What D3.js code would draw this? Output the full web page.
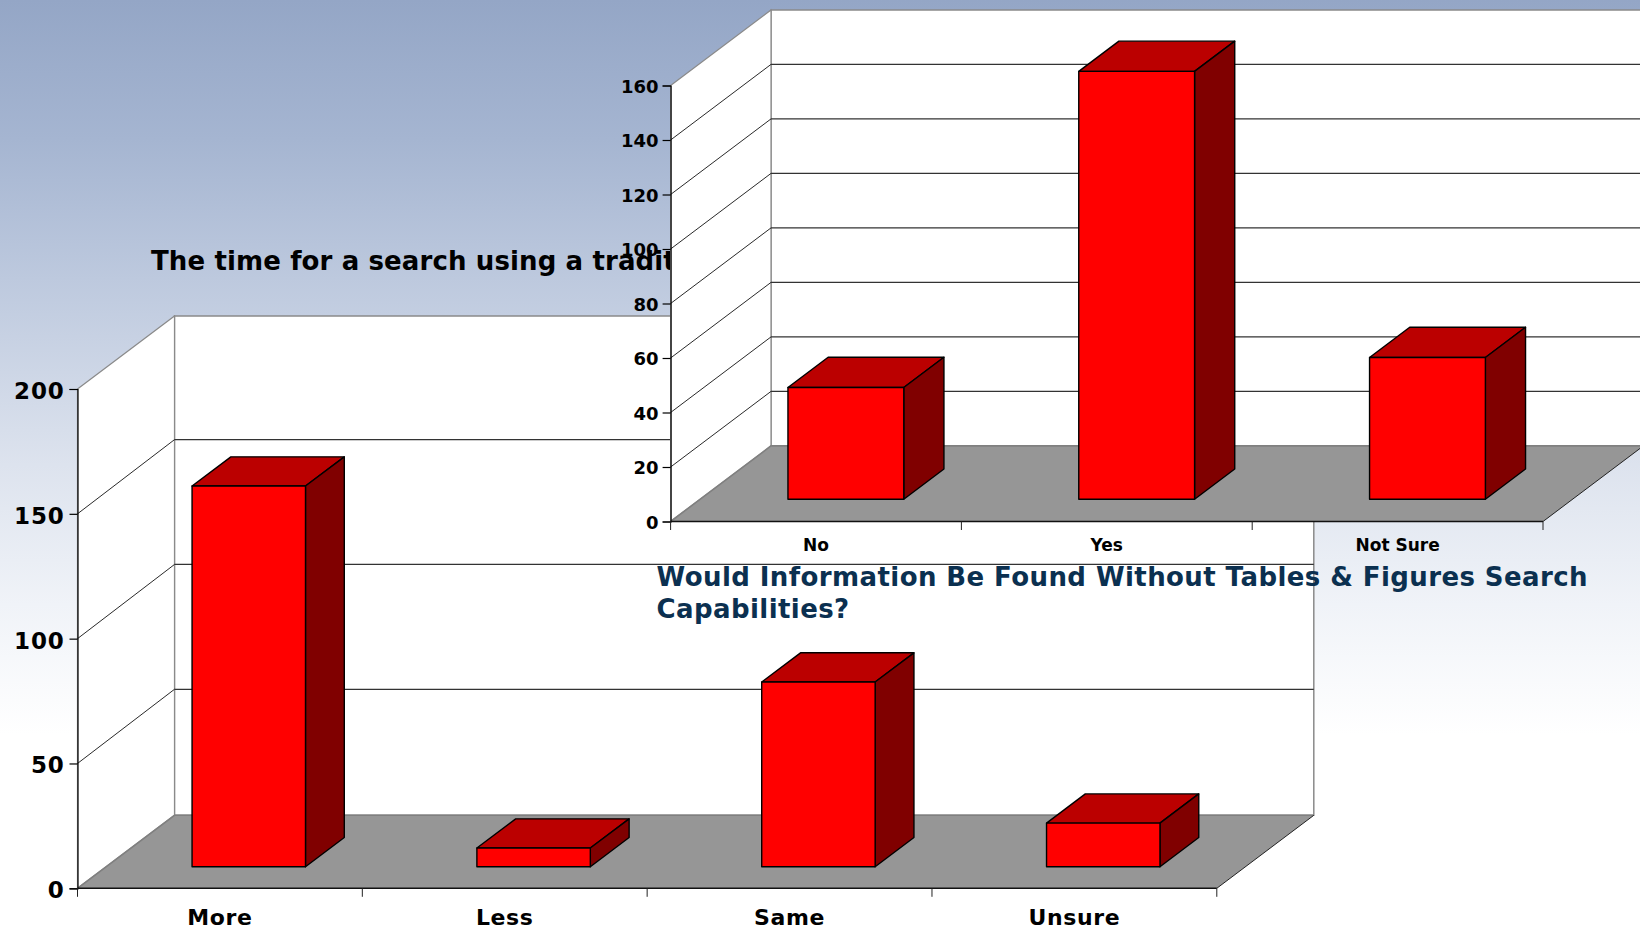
<!DOCTYPE html>
<html>
<head>
<meta charset="utf-8">
<title>Search survey charts</title>
<script src="https://cdn.jsdelivr.net/npm/d3@7/dist/d3.min.js"></script>
<style>
  html, body { margin: 0; padding: 0; background: #fff; }
  svg { display: block; }
  text { font-family: "DejaVu Sans", Verdana, sans-serif; font-weight: 700; }
</style>
</head>
<body>
<svg id="slide" width="1640" height="930"></svg>
<script>
// Survey answers
const timeCategories = ["More", "Less", "Same", "Unsure"];
const timeValues = [152.5, 7.5, 74, 17.5];
const timeTicks = [0, 50, 100, 150, 200];

const foundCategories = ["No", "Yes", "Not Sure"];
const foundValues = [41, 157, 52];
const foundTicks = [0, 20, 40, 60, 80, 100, 120, 140, 160];

const timeTitle = "The time for a search using a traditional";
const foundTitleLines = ["Would Information Be Found Without Tables & Figures Search", "Capabilities?"];

const svg = d3.select("#slide");
const defs = svg.append("defs");

// Slide backdrop: blue at the top fading to white
const grad = defs.append("linearGradient")
  .attr("id", "backdrop").attr("x1", 0).attr("y1", 0).attr("x2", 0).attr("y2", 1);
[[0, "#94a6c6"], [0.15, "#a5b5d1"], [0.3, "#bdc9de"], [0.5, "#dde3ee"], [0.65, "#f0f3f8"], [0.79, "#ffffff"], [1, "#ffffff"]]
  .forEach(([o, c]) => grad.append("stop").attr("offset", o).attr("stop-color", c));
svg.append("rect").attr("width", 1640).attr("height", 930).attr("fill", "url(#backdrop)");

// Draws one pseudo-3D column chart with a white box, grey floor and extruded bars
function drawChart(g, cfg) {
  const { categories, values, ticks, frame } = cfg;
  const { x0, x1, yBase, yTop, dx, dy, max, gridShift } = frame;

  const y = d3.scaleLinear().domain([0, max]).range([yBase, yTop]);
  const x = d3.scaleBand().domain(categories).range([x0, x1]).paddingInner(0.6).paddingOuter(0.3);
  const step = x.step();

  const poly = pts => pts.map(p => p.join(",")).join(" ");

  // Back wall and left wall
  g.append("polygon")
    .attr("points", poly([[x0 + dx, yTop - dy], [x1 + dx, yTop - dy], [x1 + dx, yBase - dy], [x0 + dx, yBase - dy]]))
    .attr("fill", "#fff").attr("stroke", "#8a8a8a").attr("stroke-width", 1.5);
  g.append("polygon")
    .attr("points", poly([[x0, yTop], [x0 + dx, yTop - dy], [x0 + dx, yBase - dy], [x0, yBase]]))
    .attr("fill", "#fff").attr("stroke", "#8a8a8a").attr("stroke-width", 1.2);

  // Gridlines along both walls
  const inner = ticks.filter(t => t > 0 && t < max);
  g.selectAll(".grid-back").data(inner).join("line")
    .attr("x1", x0 + dx).attr("x2", x1 + dx)
    .attr("y1", d => y(d) - dy - gridShift).attr("y2", d => y(d) - dy - gridShift)
    .attr("stroke", "#333").attr("stroke-width", 1.2);
  g.selectAll(".grid-side").data(inner).join("line")
    .attr("x1", x0).attr("x2", x0 + dx)
    .attr("y1", d => y(d)).attr("y2", d => y(d) - dy - gridShift)
    .attr("stroke", "#111").attr("stroke-width", 0.9);

  // Floor
  g.append("polygon")
    .attr("points", poly([[x0, yBase], [x1, yBase], [x1 + dx, yBase - dy], [x0 + dx, yBase - dy]]))
    .attr("fill", "#969696");
  g.append("polyline")
    .attr("points", poly([[x0, yBase], [x0 + dx, yBase - dy], [x1 + dx, yBase - dy]]))
    .attr("fill", "none").attr("stroke", "#808080").attr("stroke-width", 1.6);
  g.append("line")
    .attr("x1", x1).attr("y1", yBase).attr("x2", x1 + dx).attr("y2", yBase - dy)
    .attr("stroke", "#222").attr("stroke-width", 1);

  // Value axis
  const axisY = d3.axisLeft(y).tickValues(ticks).tickSize(8).tickPadding(cfg.tickPad).tickFormat(d3.format("d"));
  const ay = g.append("g").attr("transform", `translate(${x0},0)`).call(axisY);
  ay.select(".domain").attr("stroke", "#000").attr("stroke-width", 1.2);
  ay.selectAll(".tick line").attr("stroke", "#000").attr("stroke-width", 1.2);
  ay.selectAll("text").attr("fill", "#000").attr("font-size", cfg.tickFont)
    .attr("font-family", null).attr("dy", null)
    .attr("dominant-baseline", null).attr("y", cfg.tickBaseline)
    .attr("letter-spacing", cfg.tickSpacing);

  // Category axis: ticks on band edges, labels centred in each band
  const edges = d3.range(categories.length + 1).map(i => x0 + i * step);
  g.append("line").attr("x1", x0).attr("x2", x1).attr("y1", yBase).attr("y2", yBase)
    .attr("stroke", "#111").attr("stroke-width", 1.4);
  g.selectAll(".cat-tick").data(edges).join("line")
    .attr("x1", d => d).attr("x2", d => d).attr("y1", yBase).attr("y2", yBase + 8.5)
    .attr("stroke", "#222").attr("stroke-width", 1);
  g.selectAll(".cat-label").data(categories).join("text")
    .attr("x", d => x(d) + x.bandwidth() / 2)
    .attr("y", cfg.catBaseline)
    .attr("text-anchor", "middle")
    .attr("font-size", cfg.catFont)
    .attr("letter-spacing", cfg.catSpacing)
    .attr("fill", "#000")
    .text(d => d);

  // Extruded bars, standing part-way back on the floor
  const inset = 0.295, depth = 0.4;
  const fx = dx * inset + 0.5, fy = dy * inset;
  const bx = dx * depth, by = dy * depth;
  const barWidth = x.bandwidth() - 0.5;
  const bars = g.selectAll(".bar").data(categories.map((c, i) => ({ c, v: values[i] }))).join("g");
  const outline = s => s.attr("stroke", "#000").attr("stroke-width", 1.4).attr("stroke-linejoin", "round");
  bars.append("polygon")
    .attr("points", d => {
      const l = x(d.c) + fx, r = l + barWidth, t = y(d.v) - fy;
      return poly([[l, t], [l + bx, t - by], [r + bx, t - by], [r, t]]);
    }).attr("fill", "#bb0000").call(outline);
  bars.append("polygon")
    .attr("points", d => {
      const r = x(d.c) + fx + barWidth, t = y(d.v) - fy, b = y(0) - fy;
      return poly([[r, t], [r + bx, t - by], [r + bx, b - by], [r, b]]);
    }).attr("fill", "#800000").call(outline);
  bars.append("rect")
    .attr("x", d => x(d.c) + fx)
    .attr("y", d => y(d.v) - fy)
    .attr("width", barWidth)
    .attr("height", d => y(0) - y(d.v))
    .attr("fill", "#ff0000").call(outline);
}

// Lower chart and its heading
svg.append("text").attr("x", 151).attr("y", 270)
  .attr("font-size", 26).attr("letter-spacing", 0.12).attr("fill", "#000").text(timeTitle);

drawChart(svg.append("g"), {
  categories: timeCategories, values: timeValues, ticks: timeTicks,
  frame: { x0: 77.5, x1: 1216.8, yBase: 888.3, yTop: 389, dx: 97, dy: 73, max: 200, gridShift: 1.2 },
  tickFont: 23, tickSpacing: 0.8, tickPad: 5, tickBaseline: 9.5, catFont: 22, catSpacing: 0.6, catBaseline: 924.5
});

// Upper chart drawn on top, with its heading over both
drawChart(svg.append("g"), {
  categories: foundCategories, values: foundValues, ticks: foundTicks,
  frame: { x0: 670.6, x1: 1543, yBase: 521.5, yTop: 85.5, dx: 100.4, dy: 75.6, max: 160, gridShift: 0 },
  tickFont: 18, tickSpacing: 0, tickPad: 4, tickBaseline: 6.5, catFont: 17, catSpacing: 0, catBaseline: 551
});

svg.selectAll(".found-title").data(foundTitleLines).join("text")
  .attr("x", 656.5)
  .attr("y", (d, i) => 586 + i * 31.7)
  .attr("font-size", 26)
  .attr("letter-spacing", 0.42)
  .attr("fill", "#0b3050")
  .text(d => d);
</script>
</body>
</html>
